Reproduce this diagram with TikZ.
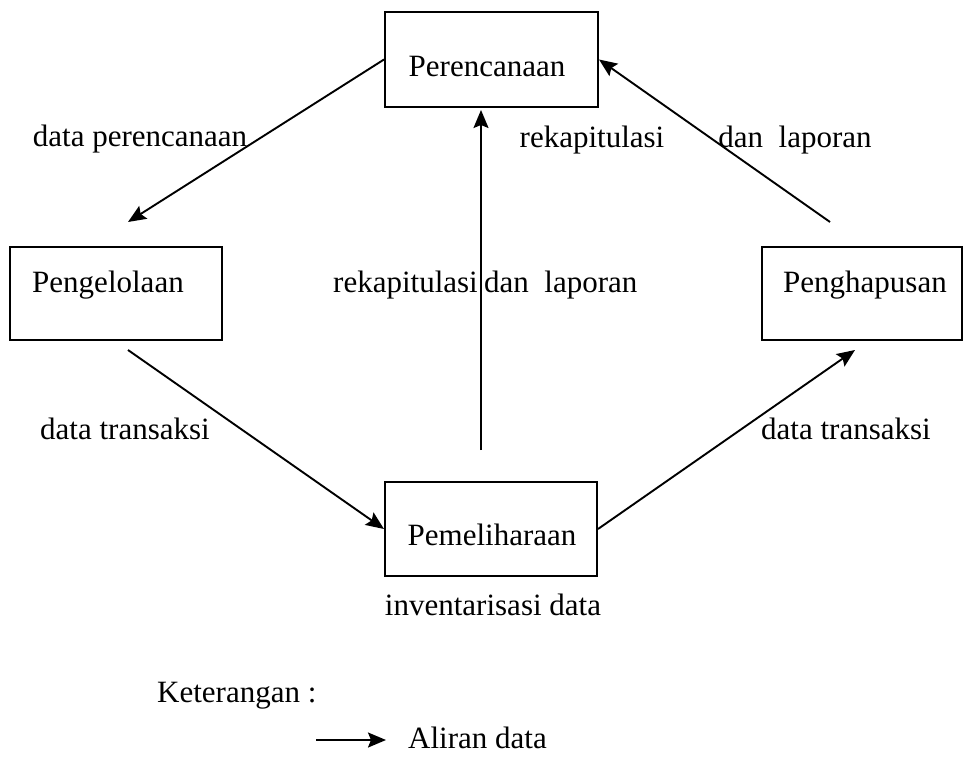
\documentclass[tikz,border=0pt]{standalone}
\usepackage{fontspec}
\setmainfont{Liberation Serif}
\usetikzlibrary{arrows.meta}
\begin{document}
\begin{tikzpicture}[x=1pt,y=-1pt,
  box/.style={draw,line width=2pt,rectangle,inner sep=0pt},
  txt/.style={inner sep=0pt,font=\fontsize{31}{36}\selectfont,anchor=center},
  arr/.style={line width=1.9pt,-{Stealth[length=18pt,width=15pt,inset=3pt]}}]
\useasboundingbox (0,0) rectangle (965,765);
% boxes
\node[box,minimum width=213pt,minimum height=95pt] (per) at (491.5,59.5) {};
\node[box,minimum width=212pt,minimum height=93pt] (peng) at (116,293.5) {};
\node[box,minimum width=200pt,minimum height=93pt] (hap) at (862,293.5) {};
\node[box,minimum width=212pt,minimum height=94pt] (pem) at (491,529) {};
% box texts
\node[txt] (tper) at (487,67) {Perencanaan};
\node[txt] (tpeng) at (108,285) {Pengelolaan};
\node[txt] (thap) at (865,285) {Penghapusan};
\node[txt] (tpem) at (492,535) {Pemeliharaan};
% free ends
\coordinate (a1) at (128,222);
\coordinate (b0) at (128,350);
\coordinate (c1) at (855,350);
\coordinate (d0) at (830,222);
\coordinate (e0) at (481,450);
\coordinate (e1) at (481,110);
% connectors
\draw[arr] (per.west) -- (a1);
\draw[arr] (b0) -- (pem.west);
\draw[arr] (pem.east) -- (c1);
\draw[arr] (d0) -- (per.east);
\draw[arr] (e0) -- (e1);
% labels
\node[txt] (l1) at (140,139) {data perencanaan};
\node[txt] (l2) at (592,140) {rekapitulasi};
\node[txt] (l3) at (795,140) {dan\ \ laporan};
\node[txt,anchor=east] (l4) at (478,285) {rekapitulasi};
\node[txt,anchor=west] (l5) at (484,285) {dan\ \ laporan};
\node[txt] (l6) at (125,429) {data transaksi};
\node[txt] (l7) at (846,429) {data transaksi};
\node[txt] (l8) at (493,605) {inventarisasi data};
% legend
\node[txt,anchor=west] (ket) at (157,696) {Keterangan :};
\coordinate (g0) at (316,740);
\coordinate (g1) at (386,740);
\draw[arr] (g0) -- (g1);
\node[txt,anchor=west] (ali) at (408,738) {Aliran data};
\end{tikzpicture}
\end{document}
